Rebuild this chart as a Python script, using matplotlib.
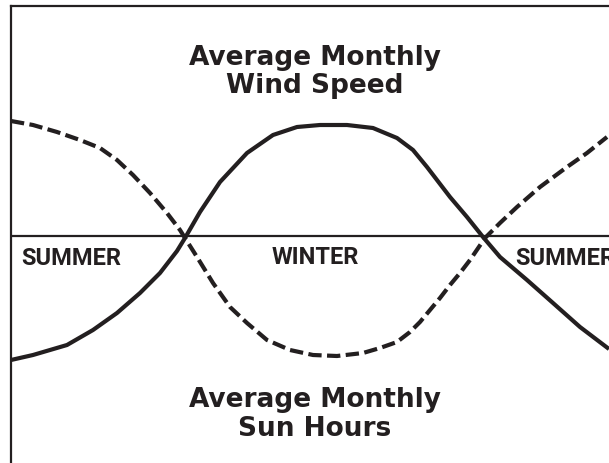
import matplotlib
matplotlib.use("Agg")
import matplotlib.pyplot as plt

# ---- data (positions along the year, relative level vs. the mid line) ----
wind_x = [0.5, 22.5, 56.5, 82.5, 106.5, 129.5, 149.5, 166.5, 174.5, 189.5, 209.5,
          236.5, 262.5, 286.5, 309.5, 336.5, 362.5, 386.5, 402.5, 416.5, 439.5,
          456.5, 472.5, 489.5, 516.5, 542.5, 569.5, 598.5]
wind_y = [-124, -119, -109, -94, -77, -57, -37, -15, -2, 24, 54, 83, 101, 109,
          111, 111, 108, 98, 86, 69, 39, 19, -1, -21, -44, -67, -91, -113]

sun_x = [0.5, 22.5, 46.5, 69.5, 89.5, 106.5, 122.5, 139.5, 156.5, 169.5, 174.5,
         186.5, 202.5, 219.5, 236.5, 256.5, 279.5, 302.5, 326.5, 352.5, 369.5,
         386.5, 399.5, 409.5, 419.5, 429.5, 439.5, 449.5, 459.5, 474.5, 489.5,
         506.5, 529.5, 556.5, 576.5, 596.5]
sun_y = [115, 111, 104, 96, 88, 76, 61, 43, 23, 6, -2, -21, -47, -71, -87, -104,
         -114, -119, -120, -117, -112, -106, -96, -86, -74, -62, -49, -37, -24,
         -2, 13, 29, 49, 69, 83, 99]

title_top = ["Average Monthly", "Wind Speed"]
title_bottom = ["Average Monthly", "Sun Hours"]
season_labels = ["SUMMER", "WINTER", "SUMMER"]

# ---- layout ----
W, H, DPI = 609, 463, 100
INK = "#231f20"
LEFT_PX, TOP_PX, MID_PX = 10.5, 6.3, 236.0

fig = plt.figure(figsize=(W / DPI, H / DPI), dpi=DPI)
ax = fig.add_axes([LEFT_PX / W, 0, 1 - LEFT_PX / W, (H - TOP_PX) / H])
ax.set_xlim(0, W - LEFT_PX)
ax.set_ylim(MID_PX - H, MID_PX - TOP_PX)
ax.set_xticks([])
ax.set_yticks([])
for s in ("right", "bottom"):
    ax.spines[s].set_visible(False)
for s in ("left", "top"):
    ax.spines[s].set_linewidth(1.6)
    ax.spines[s].set_color(INK)

ax.axhline(0, color=INK, lw=1.6)

ax.plot(wind_x, wind_y, color=INK, lw=3.0, solid_joinstyle="round",
        solid_capstyle="butt")
ax.plot(sun_x, sun_y, color=INK, lw=3.0, linestyle=(0, (3.2, 1.3)),
        dash_capstyle="butt", dash_joinstyle="round")

def px(x, y):
    return x - LEFT_PX, MID_PX - y

title_font = dict(family=["DejaVu Sans"], weight="bold", color=INK, fontsize=19)
label_font = dict(family=["Roboto", "Liberation Sans", "DejaVu Sans"],
                  weight="bold", color=INK, fontsize=17)

for txt, yb in zip(title_top, (65, 93)):
    ax.text(*px(315, yb), txt, ha="center", va="baseline", **title_font)
for txt, yb in zip(title_bottom, (407, 436)):
    ax.text(*px(315, yb), txt, ha="center", va="baseline", **title_font)

ax.text(*px(21, 265), season_labels[0], ha="left", va="baseline", **label_font)
ax.text(*px(315, 264), season_labels[1], ha="center", va="baseline", **label_font)
ax.text(*px(515, 265), season_labels[2], ha="left", va="baseline", clip_on=False, **label_font)

fig.savefig("out.png", dpi=DPI, facecolor="white")
